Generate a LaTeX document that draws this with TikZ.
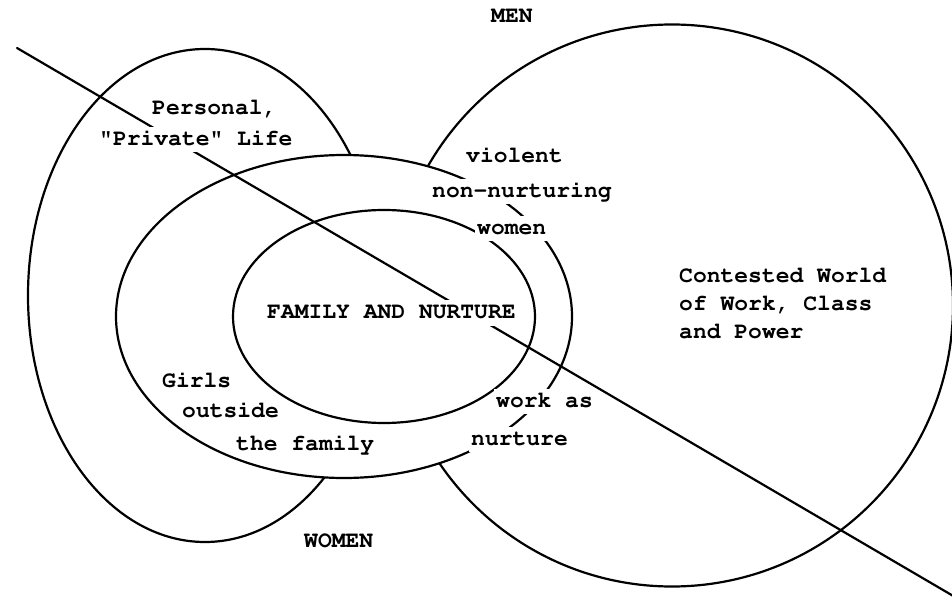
\documentclass[tikz,border=0pt]{standalone}
\usepackage[T1]{fontenc}
\usepackage{tikz}
\tikzstyle{zone}=[
	line width=2.2pt,
	draw=black
]
\tikzstyle{divide}=[
	line width=2.2pt,
	line cap=round
]
\tikzstyle{typed}=[
	anchor=base west,
	fill=white,
	inner xsep=2pt,
	inner ysep=1.5pt,
	text height=17pt,
	text depth=5pt,
	font=\fontfamily{pcr}\bfseries\fontsize{23}{27}\selectfont
]

\begin{document}
\begin{tikzpicture}[x=1pt,y=-1pt]
\useasboundingbox (0,0) rectangle (952,601);
\clip (0,0) rectangle (952,601);
\draw [zone] (205,295.5) ellipse [x radius=177pt, y radius=246.5pt];
\draw [zone] (672,305.5) circle [radius=281pt];
\draw [zone, fill=white] (344,316.5) ellipse [x radius=228pt, y radius=161.5pt];
\draw [zone] (384,316.5) ellipse [x radius=151pt, y radius=106.5pt];
\coordinate (cutstart) at (17,48);
\coordinate (cutend) at (955,597);
\draw [divide] (cutstart) -- (cutend);
\node [typed] (men) at (489,23) {MEN};
\node [typed] (women) at (302,547) {WOMEN};
\node [typed] (personal) at (150,115) {Personal,};
\node [typed] (private) at (97,146) {"Private" Life};
\node [typed] (violent) at (464,163) {violent};
\node [typed] (nonnurturing) at (430,198) {non-nurturing};
\node [typed] (womenline) at (475,235) {women};
\node [typed] (family) at (265,319) {FAMILY AND NURTURE};
\node [typed] (workas) at (494,407) {work as};
\node [typed] (nurture) at (469,445) {nurture};
\node [typed] (contested) at (677,283) {Contested World};
\node [typed] (ofwork) at (677,310) {of Work, Class};
\node [typed] (andpower) at (677,338) {and Power};
\node [typed] (girls) at (160,387) {Girls};
\node [typed] (outside) at (180,417) {outside};
\node [typed] (thefamily) at (234,450) {the family};
\end{tikzpicture}
\end{document}
